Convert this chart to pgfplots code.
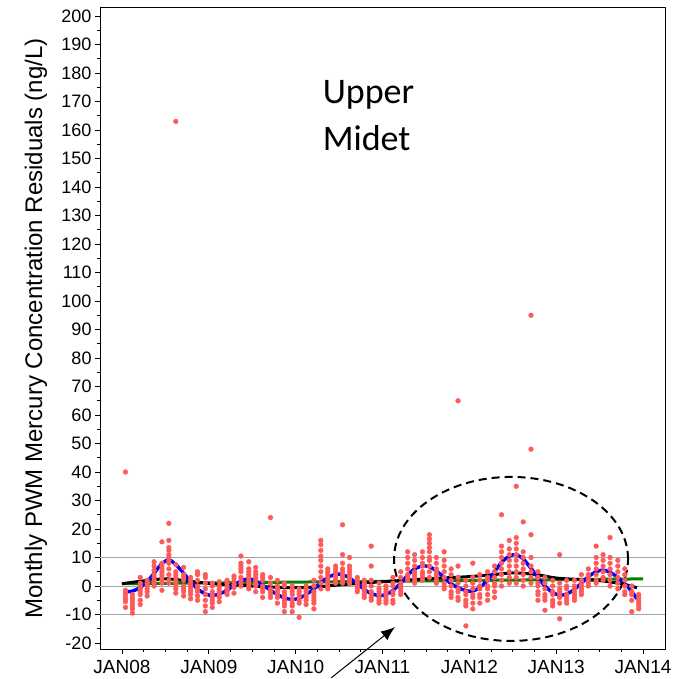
\documentclass[border=0pt]{standalone}
\usepackage{fontspec}
\setmainfont{Liberation Sans}
\newfontfamily\carlito{Carlito}
\usepackage{pgfplots}
\pgfplotsset{compat=1.18}
\usetikzlibrary{arrows.meta}
\definecolor{ptred}{RGB}{255,90,90}
\definecolor{refgray}{RGB}{165,165,165}
\definecolor{grn}{RGB}{0,128,0}
\begin{document}
\begin{tikzpicture}
\begin{axis}[
  set layers,
  scale only axis, width=565bp, height=641bp,
  xmin=2007.747, xmax=2014.253, ymin=-22.1, ymax=202.8,
  xtick={2008,2009,2010,2011,2012,2013,2014},
  xticklabels={JAN08,JAN09,JAN10,JAN11,JAN12,JAN13,JAN14},
  minor x tick num=3,
  ytick={-20,-10,...,200}, minor y tick num=1,
  tick align=outside, tick pos=left,
  major tick length=5bp, minor tick length=3bp,
  tick style={black, line width=0.8bp},
  axis line style={line width=1bp},
  /pgf/number format/assume math mode=true,
  xticklabel style={font=\fontsize{19bp}{22bp}\selectfont, yshift=-2.5bp},
  yticklabel style={font=\fontsize{18bp}{22bp}\selectfont},
  ylabel={Monthly PWM Mercury Concentration Residuals (ng/L)},
  ylabel style={font=\fontsize{24bp}{28bp}\selectfont, at={(axis description cs:-0.1133,0.5)}, anchor=center},
  clip=false,
]
\addplot[refgray, line width=0.9bp, forget plot, on layer=pre main] coordinates {(2007.747,10) (2014.253,10)};
\addplot[refgray, line width=0.9bp, forget plot, on layer=pre main] coordinates {(2007.747,0) (2014.253,0)};
\addplot[refgray, line width=0.9bp, forget plot, on layer=pre main] coordinates {(2007.747,-10) (2014.253,-10)};
% monthly residuals
\addplot[only marks, mark=*, mark size=2.4pt, color=ptred, mark options={draw=ptred, fill=ptred}, on layer=pre main] coordinates {
(2008.04,40) (2008.04,-1.5) (2008.04,-2.5) (2008.04,-3.5) (2008.04,-4.5) (2008.04,-5.5) (2008.04,-7.5)
(2008.12,-3) (2008.12,-4) (2008.12,-5) (2008.12,-6) (2008.12,-7) (2008.12,-8) (2008.12,-9.5)
(2008.21,3) (2008.21,1) (2008.21,0) (2008.21,-1) (2008.21,-2) (2008.21,-3) (2008.21,-5) (2008.21,-6.5)
(2008.29,2) (2008.29,1) (2008.29,0) (2008.29,-1) (2008.29,-2) (2008.29,-3.5)
(2008.37,8.5) (2008.37,7) (2008.37,5.5) (2008.37,4) (2008.37,3) (2008.37,2) (2008.37,1) (2008.37,0)
(2008.46,15.5) (2008.46,8) (2008.46,7) (2008.46,6) (2008.46,5) (2008.46,4) (2008.46,3) (2008.46,2) (2008.46,1) (2008.46,-1.5)
(2008.54,22) (2008.54,16) (2008.54,13.5) (2008.54,12.5) (2008.54,11) (2008.54,10) (2008.54,9) (2008.54,8) (2008.54,6) (2008.54,4) (2008.54,2) (2008.54,1)
(2008.62,163) (2008.62,7.5) (2008.62,5) (2008.62,4) (2008.62,3) (2008.62,2) (2008.62,1) (2008.62,0) (2008.62,-1) (2008.62,-2.5)
(2008.71,6.5) (2008.71,4) (2008.71,3) (2008.71,2) (2008.71,0) (2008.71,-1) (2008.71,-2) (2008.71,-3.5)
(2008.79,3) (2008.79,2) (2008.79,1) (2008.79,0) (2008.79,-1) (2008.79,-2) (2008.79,-3) (2008.79,-4.5)
(2008.87,5) (2008.87,4) (2008.87,2) (2008.87,0) (2008.87,-1) (2008.87,-2) (2008.87,-3.5) (2008.87,-5)
(2008.96,4) (2008.96,3) (2008.96,1) (2008.96,-1) (2008.96,-3) (2008.96,-5) (2008.96,-7) (2008.96,-9)
(2009.04,1) (2009.04,0) (2009.04,-2) (2009.04,-3) (2009.04,-4) (2009.04,-5) (2009.04,-6) (2009.04,-7.5)
(2009.12,1.5) (2009.12,0) (2009.12,-1) (2009.12,-2) (2009.12,-3) (2009.12,-4) (2009.12,-5.5)
(2009.21,2) (2009.21,1) (2009.21,0) (2009.21,-1) (2009.21,-2) (2009.21,-3)
(2009.29,3.5) (2009.29,2.5) (2009.29,1.5) (2009.29,0.5) (2009.29,-0.5) (2009.29,-2.5)
(2009.37,10.5) (2009.37,8) (2009.37,7) (2009.37,6) (2009.37,5) (2009.37,3) (2009.37,2) (2009.37,1) (2009.37,0)
(2009.46,8.5) (2009.46,6) (2009.46,5) (2009.46,4) (2009.46,3) (2009.46,2) (2009.46,1) (2009.46,0) (2009.46,-1)
(2009.54,6.5) (2009.54,5) (2009.54,4) (2009.54,3) (2009.54,2) (2009.54,1) (2009.54,0) (2009.54,-2)
(2009.62,4) (2009.62,3) (2009.62,2) (2009.62,0) (2009.62,-1) (2009.62,-2) (2009.62,-4)
(2009.71,24) (2009.71,3) (2009.71,1) (2009.71,-1) (2009.71,-2) (2009.71,-3) (2009.71,-4)
(2009.79,2) (2009.79,0) (2009.79,-1) (2009.79,-2) (2009.79,-3) (2009.79,-4) (2009.79,-6)
(2009.87,1) (2009.87,0) (2009.87,-2) (2009.87,-3) (2009.87,-4) (2009.87,-5) (2009.87,-6) (2009.87,-7) (2009.87,-9)
(2009.96,0) (2009.96,-1) (2009.96,-2) (2009.96,-3) (2009.96,-5) (2009.96,-6) (2009.96,-7) (2009.96,-9)
(2010.04,-1) (2010.04,-2) (2010.04,-3) (2010.04,-4) (2010.04,-5) (2010.04,-6) (2010.04,-11)
(2010.12,0) (2010.12,-1) (2010.12,-2) (2010.12,-3) (2010.12,-4) (2010.12,-5) (2010.12,-6.5)
(2010.21,2) (2010.21,0) (2010.21,-2) (2010.21,-3) (2010.21,-4) (2010.21,-5) (2010.21,-6) (2010.21,-8)
(2010.29,16) (2010.29,14.5) (2010.29,12.5) (2010.29,10.5) (2010.29,9) (2010.29,7) (2010.29,5) (2010.29,3) (2010.29,1) (2010.29,-1)
(2010.37,6) (2010.37,5) (2010.37,4) (2010.37,3) (2010.37,2) (2010.37,1) (2010.37,0) (2010.37,-1)
(2010.46,7) (2010.46,6) (2010.46,5) (2010.46,4) (2010.46,3) (2010.46,2) (2010.46,1)
(2010.54,21.5) (2010.54,11) (2010.54,8) (2010.54,6) (2010.54,5) (2010.54,4) (2010.54,3) (2010.54,2) (2010.54,1)
(2010.62,10) (2010.62,7) (2010.62,6) (2010.62,5) (2010.62,4) (2010.62,3) (2010.62,2) (2010.62,1)
(2010.71,3) (2010.71,2) (2010.71,1) (2010.71,0) (2010.71,-1) (2010.71,-2)
(2010.79,2) (2010.79,1) (2010.79,0) (2010.79,-1) (2010.79,-2) (2010.79,-3) (2010.79,-4)
(2010.87,14) (2010.87,7) (2010.87,2) (2010.87,0) (2010.87,-2) (2010.87,-3) (2010.87,-4) (2010.87,-5)
(2010.96,1) (2010.96,-1) (2010.96,-2) (2010.96,-3) (2010.96,-4) (2010.96,-5) (2010.96,-6)
(2011.04,0) (2011.04,-1) (2011.04,-2) (2011.04,-3) (2011.04,-4) (2011.04,-5) (2011.04,-6)
(2011.12,3) (2011.12,1) (2011.12,0) (2011.12,-2) (2011.12,-3) (2011.12,-5) (2011.12,-6)
(2011.21,5) (2011.21,3) (2011.21,1) (2011.21,0) (2011.21,-1) (2011.21,-2) (2011.21,-3)
(2011.29,12) (2011.29,10) (2011.29,8) (2011.29,6) (2011.29,4) (2011.29,3) (2011.29,2)
(2011.37,11) (2011.37,9) (2011.37,7) (2011.37,5) (2011.37,4) (2011.37,3) (2011.37,2) (2011.37,1)
(2011.46,12) (2011.46,10) (2011.46,8) (2011.46,7) (2011.46,5) (2011.46,4) (2011.46,3) (2011.46,2)
(2011.54,18) (2011.54,16.5) (2011.54,15) (2011.54,13.5) (2011.54,12) (2011.54,10) (2011.54,9) (2011.54,7) (2011.54,5) (2011.54,3)
(2011.62,10) (2011.62,8) (2011.62,6) (2011.62,5) (2011.62,4) (2011.62,3) (2011.62,2) (2011.62,1)
(2011.71,12) (2011.71,9) (2011.71,7) (2011.71,5) (2011.71,3) (2011.71,1) (2011.71,0) (2011.71,-1)
(2011.79,6) (2011.79,4) (2011.79,2) (2011.79,0) (2011.79,-2) (2011.79,-3) (2011.79,-4)
(2011.87,65) (2011.87,7) (2011.87,3) (2011.87,1) (2011.87,-1) (2011.87,-2) (2011.87,-4) (2011.87,-5)
(2011.96,2) (2011.96,0) (2011.96,-2) (2011.96,-3) (2011.96,-5) (2011.96,-6) (2011.96,-7) (2011.96,-14)
(2012.04,8) (2012.04,3) (2012.04,1) (2012.04,-1) (2012.04,-3) (2012.04,-4) (2012.04,-6) (2012.04,-8)
(2012.12,4) (2012.12,2) (2012.12,0) (2012.12,-1) (2012.12,-3) (2012.12,-4) (2012.12,-6)
(2012.21,5) (2012.21,3) (2012.21,2) (2012.21,0) (2012.21,-1) (2012.21,-3) (2012.21,-5)
(2012.29,7) (2012.29,5) (2012.29,3) (2012.29,1) (2012.29,0) (2012.29,-2) (2012.29,-4)
(2012.37,25) (2012.37,14) (2012.37,12) (2012.37,10) (2012.37,8) (2012.37,6) (2012.37,4) (2012.37,2) (2012.37,0)
(2012.46,16) (2012.46,13) (2012.46,11) (2012.46,9) (2012.46,7) (2012.46,5) (2012.46,3) (2012.46,1)
(2012.54,35) (2012.54,17) (2012.54,15) (2012.54,13) (2012.54,11) (2012.54,9) (2012.54,7) (2012.54,5) (2012.54,3) (2012.54,1)
(2012.62,22.5) (2012.62,12) (2012.62,10) (2012.62,8) (2012.62,6) (2012.62,4) (2012.62,2) (2012.62,0)
(2012.71,95) (2012.71,48) (2012.71,18) (2012.71,10) (2012.71,7) (2012.71,5) (2012.71,3) (2012.71,1)
(2012.79,5) (2012.79,3) (2012.79,1) (2012.79,0) (2012.79,-2) (2012.79,-3) (2012.79,-5)
(2012.87,3) (2012.87,1) (2012.87,-1) (2012.87,-3) (2012.87,-4) (2012.87,-5) (2012.87,-8.5)
(2012.96,2) (2012.96,0) (2012.96,-2) (2012.96,-3) (2012.96,-5) (2012.96,-6) (2012.96,-7)
(2013.04,11) (2013.04,1) (2013.04,-1) (2013.04,-2) (2013.04,-3) (2013.04,-4) (2013.04,-6) (2013.04,-11.5)
(2013.12,2) (2013.12,0) (2013.12,-1) (2013.12,-3) (2013.12,-4) (2013.12,-5) (2013.12,-6)
(2013.21,2) (2013.21,0) (2013.21,-1) (2013.21,-2) (2013.21,-3) (2013.21,-4) (2013.21,-5)
(2013.29,4) (2013.29,2) (2013.29,1) (2013.29,0) (2013.29,-1) (2013.29,-2) (2013.29,-3)
(2013.37,6) (2013.37,4) (2013.37,3) (2013.37,2) (2013.37,1) (2013.37,0)
(2013.46,14) (2013.46,10) (2013.46,8) (2013.46,6) (2013.46,4) (2013.46,2) (2013.46,1)
(2013.54,11) (2013.54,9) (2013.54,7) (2013.54,5) (2013.54,3) (2013.54,2)
(2013.62,17) (2013.62,10) (2013.62,8) (2013.62,6) (2013.62,4) (2013.62,2) (2013.62,0)
(2013.71,9) (2013.71,7) (2013.71,5) (2013.71,3) (2013.71,1) (2013.71,-1)
(2013.79,6) (2013.79,4) (2013.79,2) (2013.79,0) (2013.79,-2) (2013.79,-3)
(2013.87,0) (2013.87,-2) (2013.87,-3) (2013.87,-5) (2013.87,-9)
(2013.95,-3) (2013.95,-4) (2013.95,-5) (2013.95,-6) (2013.95,-7) (2013.95,-8)
};
% linear trend
\addplot[grn, line width=3bp, no marks] coordinates {(2008.0,0.8) (2014.0,2.5)};
% smooth trend
\addplot[black, line width=3bp, smooth, no marks] coordinates {
(2008.0,0.8) (2008.25,1.8) (2008.5,2.5) (2008.75,1.8) (2009.0,0.9) (2009.25,0.4) (2009.5,0) (2009.75,-0.4)
(2010.0,-0.6) (2010.25,-0.3) (2010.5,0.4) (2010.75,1.0) (2011.0,1.5) (2011.25,2.0) (2011.5,2.5) (2011.75,2.9)
(2012.0,3.3) (2012.25,3.9) (2012.5,4.6) (2012.75,4.1) (2013.0,2.8) (2013.25,2.3) (2013.5,1.9) (2013.75,0.8) (2013.93,-0.6)
};
% seasonal fit
\addplot[blue, line width=3.4bp, smooth, no marks] coordinates {
(2008.04,-2.0) (2008.12,-1.8) (2008.21,-0.5) (2008.29,1.5) (2008.37,4.5) (2008.46,7.8) (2008.54,9.2) (2008.62,7.5)
(2008.71,4.5) (2008.79,1.5) (2008.87,-1.0) (2008.96,-2.8) (2009.04,-3.3) (2009.12,-2.8) (2009.21,-1.5) (2009.29,0.3)
(2009.37,1.8) (2009.46,2.5) (2009.54,1.8) (2009.62,0.3) (2009.71,-1.5) (2009.79,-3.0) (2009.87,-4.2) (2009.96,-4.7)
(2010.04,-4.3) (2010.12,-3.0) (2010.21,-1.0) (2010.29,1.2) (2010.37,3.0) (2010.46,4.1) (2010.54,4.0) (2010.62,2.8)
(2010.71,0.8) (2010.79,-1.2) (2010.87,-2.7) (2010.96,-3.3) (2011.04,-3.0) (2011.12,-1.5) (2011.21,1.0) (2011.29,3.8)
(2011.37,6.0) (2011.46,7.0) (2011.54,6.8) (2011.62,5.3) (2011.71,3.0) (2011.79,0.8) (2011.87,-0.6) (2011.96,-1.6)
(2012.04,-1.8) (2012.12,-0.5) (2012.21,2.0) (2012.29,5.0) (2012.37,8.3) (2012.46,10.5) (2012.54,11.0) (2012.62,9.5)
(2012.71,6.2) (2012.79,3.0) (2012.87,0.0) (2012.96,-2.3) (2013.04,-3.2) (2013.12,-2.8) (2013.21,-1.2) (2013.29,1.0)
(2013.37,3.3) (2013.46,5.0) (2013.54,5.6) (2013.62,4.8) (2013.71,3.0) (2013.79,0.8) (2013.87,-2.0) (2013.93,-4.5)
};
\draw[black, line width=2bp, dash pattern=on 8bp off 5bp] (axis cs:2012.48,9.5) ellipse [x radius=117bp, y radius=82bp];
\draw[black, line width=1bp, -{Latex[length=14bp,width=11bp]}] (axis cs:2010.41,-32.2) -- (axis cs:2011.144,-14.4);
\node[anchor=base west, inner sep=0pt, font=\carlito\fontsize{36bp}{36bp}\selectfont] at (axis cs:2010.31,169.4) {Upper};
\node[anchor=base west, inner sep=0pt, font=\carlito\fontsize{36bp}{36bp}\selectfont] at (axis cs:2010.31,152.7) {Midet};
\end{axis}
\path[use as bounding box] (-100bp,-30bp) rectangle (581bp,649bp);
\end{tikzpicture}
\end{document}
